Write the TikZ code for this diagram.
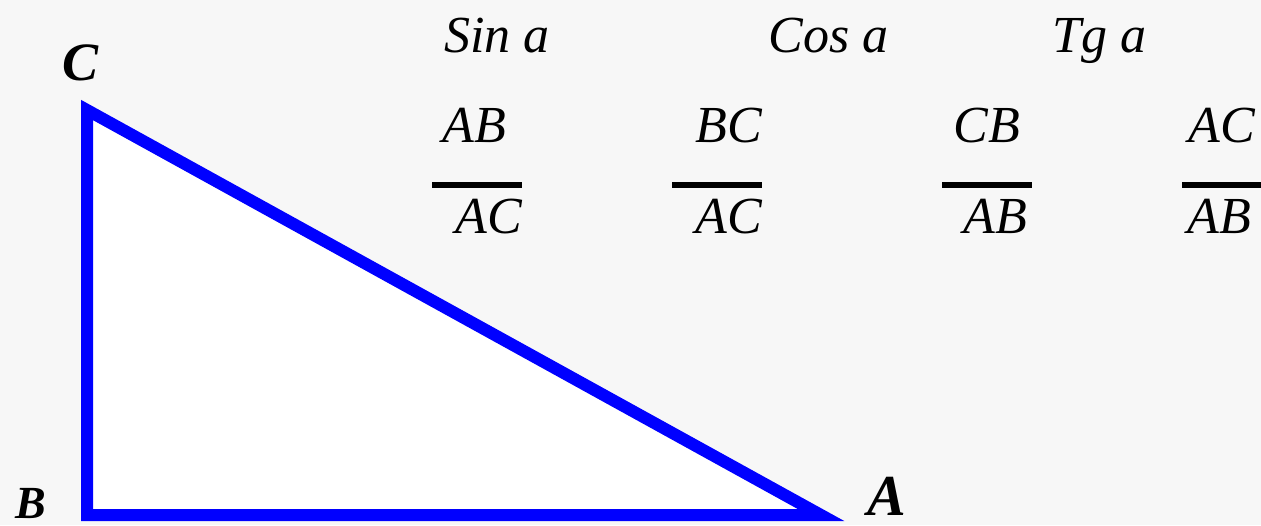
\documentclass[tikz,border=0pt]{standalone}
\usepackage{fontspec}
\setmainfont{Liberation Serif}
\usetikzlibrary{positioning}

\tikzset{
  side/.style={draw=blue, line width=6pt, line join=miter},
  fracbar/.style={line width=3pt},
  ratio/.style={inner sep=0pt, anchor=base west, font=\fontsize{26}{30}\selectfont\itshape},
  vertex/.style={inner sep=0pt, anchor=base west},
}

\begin{document}
\begin{tikzpicture}[x=0.5pt,y=-0.5pt]
  % background
  \fill[black!3] (0,0) rectangle (1261,525);
  \useasboundingbox (0,0) rectangle (1261,525);

  % Triangle
  \coordinate (B) at (87,515);
  \coordinate (C) at (87,110);
  \coordinate (A) at (821,515);
  \filldraw[side, fill=white] (B) -- (C) -- (A) -- cycle;

  % Vertex labels
  \node[vertex] (labC) at (62,80) {\fontsize{27}{30}\selectfont\bfseries\itshape C};
  \node[vertex] (labB) at (15,518) {\fontsize{23}{26}\selectfont\bfseries\itshape B};
  \node[vertex] (labA) at (867,515) {\fontsize{29}{33}\selectfont\bfseries\itshape A};

  % Headers
  \node[ratio] (sin) at (444,52) {Sin a};
  \node[ratio] (cos) at (768,52) {Cos a};
  \node[ratio] (tg) at (1052,52) {Tg a};

  % Fractions
  \foreach \num/\den/\xbar/\xnum/\xden [count=\k] in
    {AB/AC/432/442/455, BC/AC/672/695/695, CB/AB/942/953/963, AC/AB/1182/1188/1187} {
    \node[ratio] (num\k) at (\xnum,142) {\num};
    \node[ratio] (den\k) at (\xden,233) {\den};
    \draw[fracbar] (\xbar,185) -- ++(90,0);
  }
\end{tikzpicture}
\end{document}
